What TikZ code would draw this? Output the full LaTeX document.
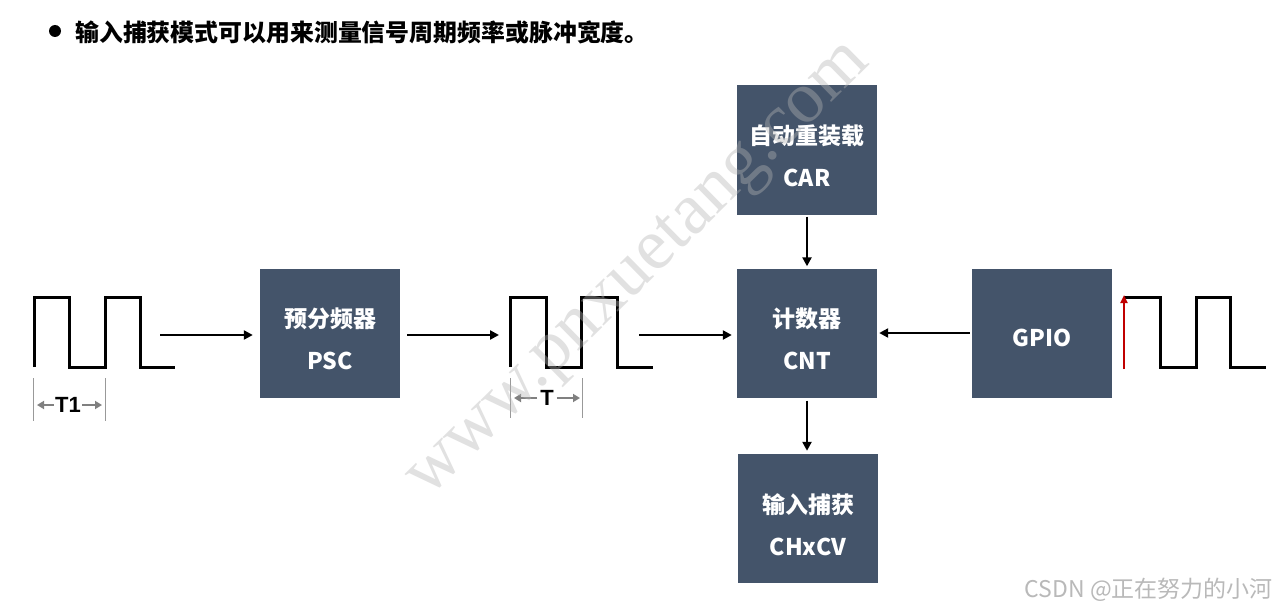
\documentclass[tikz,border=0pt]{standalone}
\usepackage{fontspec}
\setmainfont{Noto Sans CJK SC}
\newfontfamily\arialf{Liberation Sans}
\newfontfamily\wmfont{Liberation Serif}
\usetikzlibrary{arrows.meta}
\definecolor{boxc}{RGB}{68,84,106}
\definecolor{redarr}{RGB}{192,0,0}
\definecolor{wmc}{RGB}{180,180,180}
\begin{document}
\begin{tikzpicture}[x=1pt,y=-1pt,
  blk/.style={fill=boxc, minimum width=140pt, minimum height=129pt, inner sep=0pt},
  btxt/.style={text=white, font=\fontsize{23}{42}\selectfont\bfseries, align=center, inner sep=0pt},
  conn/.style={line width=2.5pt, -{Triangle[length=9pt,width=9pt]}},
  wave/.style={line width=3pt, line join=miter},
  tickl/.style={gray!80, line width=0.8pt},
  garrow/.style={gray, line width=2.5pt, -{Triangle[length=7pt,width=8pt]}},
  tlabel/.style={font=\arialf\bfseries\fontsize{22}{22}\selectfont, inner sep=0pt}]
\useasboundingbox (0,0) rectangle (1278,610);
\fill[white] (0,0) rectangle (1278,610);

% title
\fill (55,31) circle (6pt);
\node[anchor=west, inner sep=0pt, font=\bfseries\fontsize{23.9}{24}\selectfont] (title) at (75,32) {输入捕获模式可以用来测量信号周期频率或脉冲宽度。};

% boxes
\node[blk] (psc) at (330,333) {};
\node[btxt] (psct) at (330,339) {预分频器\\PSC};
\node[blk] (car) at (807,150) {};
\node[btxt] (cart) at (807,156) {自动重装载\\CAR};
\node[blk] (cnt) at (807,333) {};
\node[btxt] (cntt) at (807,339) {计数器\\CNT};
\node[blk] (cap) at (808,518.5) {};
\node[btxt] (capt) at (808,524.5) {输入捕获\\CHxCV};
\node[blk] (gpio) at (1042,333) {};
\node[btxt] (gpiot) at (1042,338) {GPIO};

% waveforms
\draw[wave] (34,367) -- (34,297) -- (69,297) -- (69,367) -- (105,367) -- (105,297) -- (140,297) -- (140,367) -- (175,367);
\draw[wave] (510,367) -- (510,297) -- (546,297) -- (546,367) -- (581,367) -- (581,297) -- (617,297) -- (617,367) -- (653,367);
\draw[wave] (1124,297) -- (1160,297) -- (1160,367) -- (1196,367) -- (1196,297) -- (1230,297) -- (1230,367) -- (1266,367);
\coordinate (r0) at (1124,369);
\coordinate (r1) at (1124,295);
\draw[redarr, line width=2pt, -{Triangle[length=8pt,width=7pt]}] (r0) -- (r1);

% period markers
\draw[tickl] (33,378) -- (33,421);
\draw[tickl] (105,378) -- (105,421);
\node[tlabel] (t1) at (68,405) {T1};
\coordinate (t1l) at (37,405);
\coordinate (t1r) at (102,405);
\draw[garrow] ([xshift=-1pt]t1.west) -- (t1l);
\draw[garrow] ([xshift=1pt]t1.east) -- (t1r);

\draw[tickl] (510,378) -- (510,418);
\draw[tickl] (582,378) -- (582,418);
\node[tlabel] (tt) at (547,398) {T};
\coordinate (ttl) at (514,398);
\coordinate (ttr) at (580,398);
\draw[garrow] ([xshift=-3pt]tt.west) -- (ttl);
\draw[garrow] ([xshift=3pt]tt.east) -- (ttr);

% connectors
\coordinate (w1) at (160,335);
\coordinate (w2s) at (407,335);
\coordinate (w2e) at (499,335);
\coordinate (w3) at (639,335);
\draw[conn, shorten >=7pt] (w1) -- (w1 -| psc.west);
\draw[conn] (w2s) -- (w2e);
\draw[conn, shorten >=5pt] (w3) -- (w3 -| cnt.west);
\draw[conn, shorten <=2pt, shorten >=2pt] (gpio.west) -- (cnt.east);
\draw[conn, shorten <=2pt, shorten >=2pt] (car.south) -- (cnt.north);
\draw[conn, shorten <=3pt, shorten >=3pt] (cnt.south) -- (cnt.south |- cap.north);

% watermarks
\node[rotate=44.5, text=wmc, opacity=0.4, font=\wmfont\fontsize{73}{73}\selectfont, inner sep=0pt] (wm) at (641,272) {www.pnxuetang.com};
\node[anchor=east, text=gray!55, font=\fontsize{23}{23}\selectfont, inner sep=0pt] (csdn) at (1273,590) {CSDN @正在努力的小河};
\end{tikzpicture}
\end{document}
